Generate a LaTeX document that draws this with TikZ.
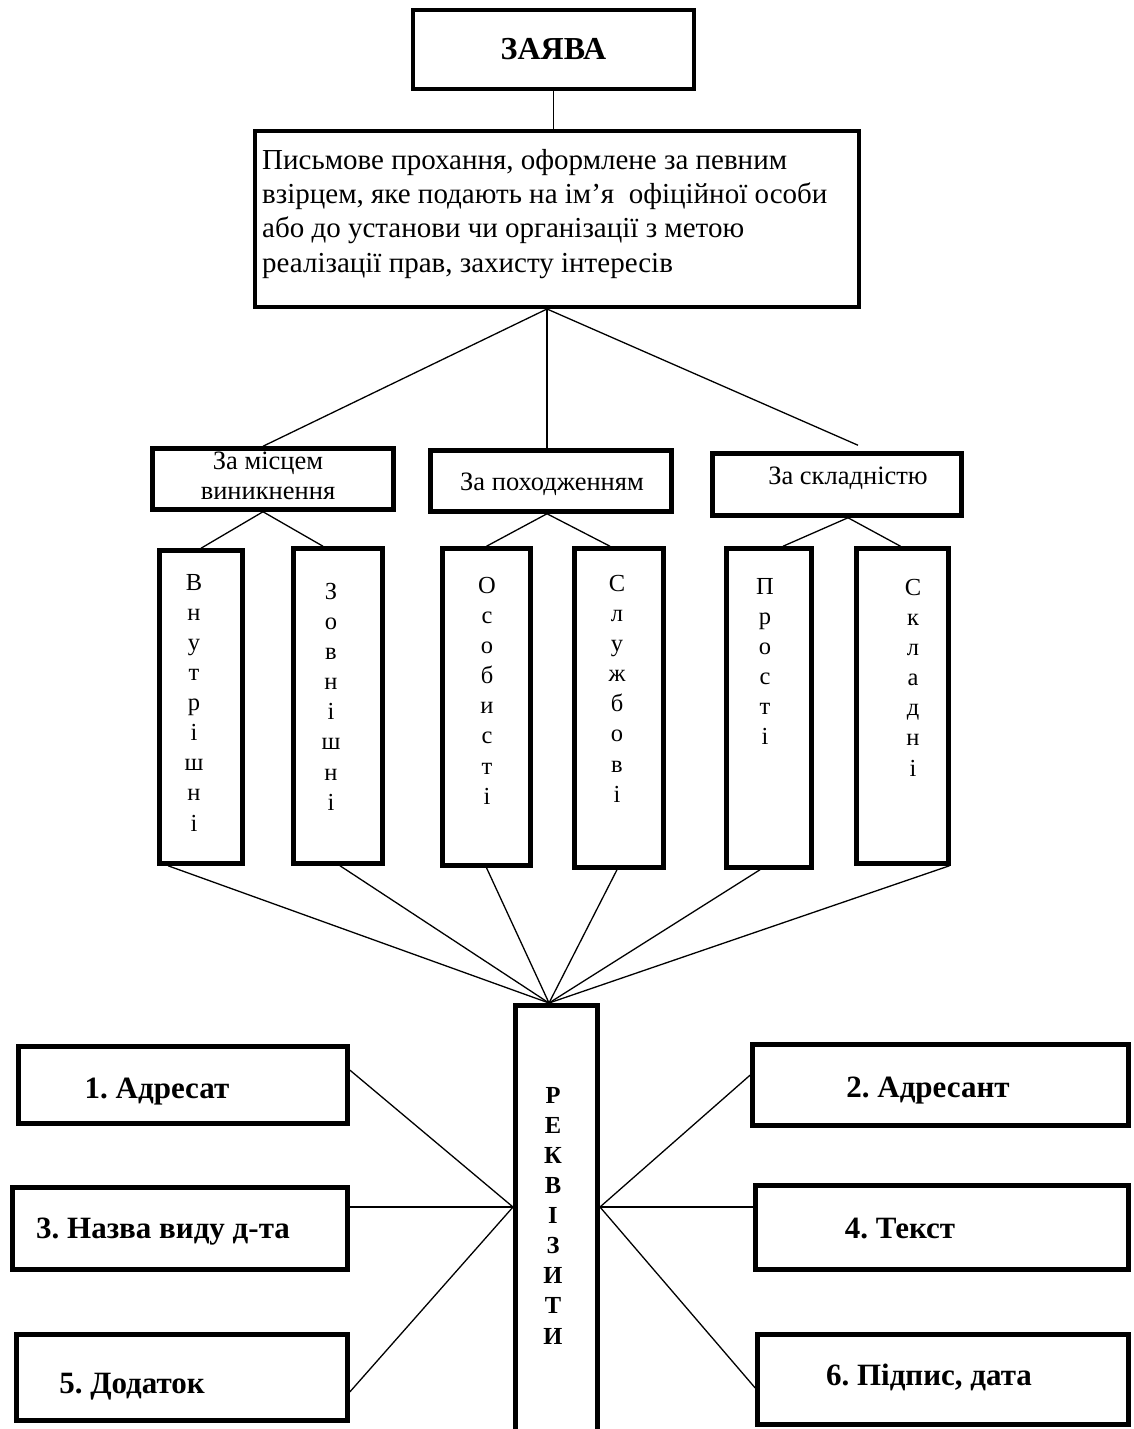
\documentclass[tikz,border=0pt]{standalone}
\usepackage{fontspec}
\setmainfont{Liberation Serif}
\begin{document}
\frenchspacing
\begin{tikzpicture}[x=1pt,y=-1pt,
  box/.style={draw, line width=4.5pt, inner sep=0pt},
  conn/.style={line width=1.3pt},
  plain/.style={inner sep=0pt},
  body/.style={plain, align=left, font=\fontsize{29}{34.3}\selectfont},
  cattext/.style={plain, align=center, font=\fontsize{26.5}{30}\selectfont},
  vert/.style={plain, anchor=north, align=center, font=\fontsize{24.5}{30.1}\selectfont},
  vertb/.style={plain, anchor=north, align=center, font=\bfseries\fontsize{24.5}{30.1}\selectfont},
  lbl/.style={plain, anchor=base, font=\bfseries\fontsize{31}{36}\selectfont}]
\useasboundingbox (0,0) rectangle (1134,1429);
\fill[white] (0,0) rectangle (1134,1429);

% title and definition
\node[box, minimum width=281, minimum height=79, font=\bfseries\fontsize{32}{38}\selectfont] (zayava) at (553.5,49.5) {ЗАЯВА};
\node[box, minimum width=604, minimum height=176] (def) at (557,219) {};
\node[body, anchor=north west] (deftext) at (262,149) {Письмове прохання, оформлене за певним\\взірцем, яке подають на ім’я \ офіційної особи\\або до установи чи організації з метою\\реалізації прав, захисту інтересів};

% categories
\node[box, minimum width=241, minimum height=61] (cat1) at (273,479) {};
\node[box, minimum width=241, minimum height=61] (cat2) at (551,481) {};
\node[box, minimum width=249, minimum height=62] (cat3) at (837,484.5) {};
\node[cattext, anchor=base] (cat1t) at (268,469) {За місцем};
\node[cattext, anchor=base] (cat1u) at (268,499) {виникнення};
\node[cattext, anchor=base] (cat2t) at (552,490) {За походженням};
\node[cattext, anchor=base] (cat3t) at (848,484) {За складністю};

% vertical boxes
\node[box, minimum width=83, minimum height=313] (v1) at (201,707) {};
\node[box, minimum width=89, minimum height=315] (v2) at (338,706) {};
\node[box, minimum width=88, minimum height=317] (v3) at (486.5,707) {};
\node[box, minimum width=89, minimum height=319] (v4) at (619,708) {};
\node[box, minimum width=85, minimum height=319] (v5) at (769,708) {};
\node[box, minimum width=92, minimum height=315] (v6) at (902.5,706) {};
\node[vert] (t1) at (194,574) {В\\н\\у\\т\\р\\і\\ш\\н\\і};
\node[vert] (t2) at (331,583) {З\\о\\в\\н\\і\\ш\\н\\і};
\node[vert] (t3) at (487,577) {О\\с\\о\\б\\и\\с\\т\\і};
\node[vert] (t4) at (617,575) {С\\л\\у\\ж\\б\\о\\в\\і};
\node[vert] (t5) at (765,578) {П\\р\\о\\с\\т\\і};
\node[vert] (t6) at (913,579) {С\\к\\л\\а\\д\\н\\і};

% requisites column (open at the bottom)
\node[plain, minimum width=82, minimum height=423.5] (rek) at (556.5,1217.25) {};
\draw[line width=4.5pt] (rek.south west) |- (rek.north) -| (rek.south east);
\node[vertb] (rekt) at (553,1087) {Р\\Е\\К\\В\\І\\З\\И\\Т\\И};
\coordinate (rekL) at (513,1207);
\coordinate (rekR) at (600,1207);
\coordinate (rekT) at (549,1003);

% requisite boxes
\node[box, minimum width=329, minimum height=77] (b1) at (183,1085) {};
\node[box, minimum width=335, minimum height=82] (b3) at (180,1228.5) {};
\node[box, minimum width=331, minimum height=86] (b5) at (182,1377.5) {};
\node[box, minimum width=376, minimum height=81] (b2) at (940.5,1085) {};
\node[box, minimum width=373, minimum height=84] (b4) at (942,1227.5) {};
\node[box, minimum width=371, minimum height=90] (b6) at (943,1379.5) {};
\node[lbl] (b1t) at (157,1098) {1. Адресат};
\node[lbl] (b3t) at (163,1238) {3. Назва виду д-та};
\node[lbl] (b5t) at (132,1393) {5. Додаток};
\node[lbl] (b2t) at (928,1097) {2. Адресант};
\node[lbl] (b4t) at (900,1238) {4. Текст};
\node[lbl] (b6t) at (929,1385) {6. Підпис, дата};

% connectors
\coordinate (defb) at (547,309);
\draw[conn] (zayava.south) -- (zayava.south |- def.north);
\draw[conn] (defb) -- ([xshift=-10pt]cat1.north);
\draw[conn] (defb) -- ([xshift=-4pt]cat2.north);
\draw[conn] (defb) -- ([xshift=21pt,yshift=6pt]cat3.north);
\draw[conn] ([xshift=-10pt]cat1.south) -- (v1.north);
\draw[conn] ([xshift=-10pt]cat1.south) -- ([xshift=-15pt]v2.north);
\draw[conn] ([xshift=-4pt]cat2.south) -- (v3.north);
\draw[conn] ([xshift=-4pt]cat2.south) -- ([xshift=-9pt]v4.north);
\draw[conn] ([xshift=11pt]cat3.south) -- ([xshift=14pt]v5.north);
\draw[conn] ([xshift=11pt]cat3.south) -- ([xshift=-2pt]v6.north);
\draw[conn] ([xshift=-33pt]v1.south) -- (rekT);
\draw[conn] ([xshift=2pt]v2.south) -- (rekT);
\draw[conn] (v3.south) -- (rekT);
\draw[conn] ([xshift=-2pt]v4.south) -- (rekT);
\draw[conn] ([xshift=-9pt]v5.south) -- (rekT);
\draw[conn] ([xshift=47pt]v6.south) -- (rekT);
\draw[conn] ([yshift=15pt]b1.east) -- (rekL);
\draw[conn] ([yshift=21.5pt]b3.east) -- (rekL);
\draw[conn] ([yshift=-14.5pt]b5.east) -- (rekL);
\draw[conn] ([yshift=10pt]b2.west) -- (rekR);
\draw[conn] ([yshift=20.5pt]b4.west) -- (rekR);
\draw[conn] ([yshift=-8.5pt]b6.west) -- (rekR);
\end{tikzpicture}
\end{document}
